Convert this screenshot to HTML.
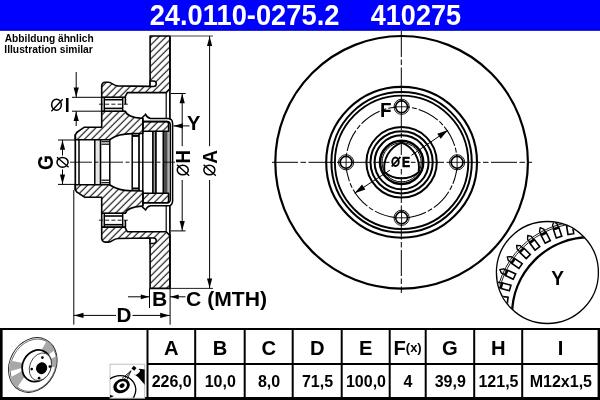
<!DOCTYPE html><html><head><meta charset="utf-8"><style>html,body{margin:0;padding:0;background:#fff;}body{width:600px;height:400px;overflow:hidden;position:relative;font-family:"Liberation Sans",sans-serif;}svg{position:absolute;left:0;top:0;will-change:transform;}text{font-family:"Liberation Sans",sans-serif;}</style></head><body>
<svg width="600" height="400" viewBox="0 0 600 400">
<defs><pattern id="h1" patternUnits="userSpaceOnUse" x="6.7" y="0" width="7" height="7"><path d="M-1.75,1.75 L1.75,-1.75 M0,7 L7,0 M5.25,8.75 L8.75,5.25" stroke="#000" stroke-width="1.05"/></pattern></defs>
<rect x="0" y="0" width="600" height="30.6" fill="#0000fe"/>
<rect x="0" y="29.4" width="600" height="1.2" fill="#0000c8"/>
<text x="149.64" y="24.85" font-size="29" font-weight="bold" fill="#fff" textLength="189.85" lengthAdjust="spacingAndGlyphs" >24.0110-0275.2</text>
<text x="370.79" y="24.85" font-size="29" font-weight="bold" fill="#fff" textLength="90.26" lengthAdjust="spacingAndGlyphs" >410275</text>
<text x="4.75" y="41.6" font-size="10.1" font-weight="bold" fill="#000" textLength="88.89" lengthAdjust="spacingAndGlyphs" >Abbildung ähnlich</text>
<text x="4.31" y="53.3" font-size="10.1" font-weight="bold" fill="#000" textLength="88.55" lengthAdjust="spacingAndGlyphs" >Illustration similar</text>
<path d="M150.1,36 L169.9,36 169.9,88.8 166.2,92.6 127.4,92.6 125.4,96.2 125.4,97.3 101.7,97.3 101.7,86.3 Q101.7,82.3 105.5,82.3 L108.5,82.3 C112,82.4 113,85.6 118,85.9 L150.1,86.4 Z" fill="url(#h1)" stroke="none"/>
<path d="M150.1,288.4 L169.9,288.4 169.9,235.6 166.2,231.8 127.4,231.8 125.4,228.2 125.4,227.1 101.7,227.1 101.7,238.1 Q101.7,242.1 105.5,242.1 L108.5,242.1 C112,242 113,238.8 118,238.5 L150.1,238 Z" fill="url(#h1)" stroke="none"/>
<path d="M101.7,111.2 L125.4,111.2 C126.5,115.2 131,117.4 141.6,118.3 L142.8,118.3 142.8,133.4 132.2,133.6 C122,134 117,135 109.4,139.7 L75.3,139.7 75.3,134.6 77,132.2 84.5,127.2 101.7,127.2 Z" fill="url(#h1)" stroke="none"/>
<path d="M101.7,213.2 L125.4,213.2 C126.5,209.2 131,207 141.6,206.1 L142.8,206.1 142.8,191 132.2,190.8 C122,190.4 117,189.4 109.4,184.7 L75.3,184.7 75.3,189.8 77,192.2 84.5,197.2 101.7,197.2 Z" fill="url(#h1)" stroke="none"/>
<path d="M142.8,121.6 L166.8,121.6 Q168.6,121.8 168.6,124 L168.6,131.2 142.8,131.2 Z" fill="url(#h1)" stroke="none"/>
<path d="M142.8,202.8 L166.8,202.8 Q168.6,202.6 168.6,200.4 L168.6,193.2 142.8,193.2 Z" fill="url(#h1)" stroke="none"/>
<rect x="95.5" y="139.7" width="4.3" height="45" fill="#e6e6e6"/>
<rect x="153.7" y="131.2" width="1.4" height="62" fill="#9a9a9a"/>
<rect x="164.4" y="131.2" width="2.6" height="62" fill="#4a4a4a"/>
<rect x="167" y="131.2" width="1.7" height="62" fill="#8a8a8a"/>
<line x1="79" y1="139.7" x2="79" y2="184.7" stroke="#000" stroke-width="1.5" />
<line x1="94.8" y1="139.7" x2="94.8" y2="184.7" stroke="#000" stroke-width="1.5" />
<line x1="100.5" y1="139.7" x2="100.5" y2="184.7" stroke="#000" stroke-width="1.6" />
<line x1="109.8" y1="139.7" x2="109.8" y2="184.7" stroke="#000" stroke-width="1.5" />
<line x1="132.2" y1="133.6" x2="132.2" y2="190.8" stroke="#000" stroke-width="1.5" />
<line x1="139" y1="133.6" x2="139" y2="190.8" stroke="#000" stroke-width="1.7" />
<line x1="142.8" y1="118.3" x2="142.8" y2="206.1" stroke="#000" stroke-width="1.5" />
<line x1="152.9" y1="131.2" x2="152.9" y2="193.2" stroke="#000" stroke-width="1.7" />
<line x1="155.9" y1="131.2" x2="155.9" y2="193.2" stroke="#000" stroke-width="1.7" />
<line x1="163.5" y1="131.2" x2="163.5" y2="193.2" stroke="#000" stroke-width="2" />
<line x1="166.2" y1="92.6" x2="166.2" y2="118.6" stroke="#000" stroke-width="1.2" />
<line x1="166.2" y1="231.8" x2="166.2" y2="205.8" stroke="#000" stroke-width="1.2" />
<line x1="101.5" y1="141.7" x2="109.8" y2="141.7" stroke="#000" stroke-width="1.2" />
<line x1="101.5" y1="182.7" x2="109.8" y2="182.7" stroke="#000" stroke-width="1.2" />
<line x1="101.5" y1="144.2" x2="109.8" y2="144.2" stroke="#000" stroke-width="1.2" />
<line x1="101.5" y1="180.2" x2="109.8" y2="180.2" stroke="#000" stroke-width="1.2" />
<line x1="132.2" y1="135.9" x2="139" y2="135.9" stroke="#000" stroke-width="2" />
<line x1="132.2" y1="188.5" x2="139" y2="188.5" stroke="#000" stroke-width="2" />
<path d="M150.1,36 L169.9,36 169.9,88.8 166.2,92.6 127.4,92.6 125.4,96.2 125.4,97.3 101.7,97.3 101.7,86.3 Q101.7,82.3 105.5,82.3 L108.5,82.3 C112,82.4 113,85.6 118,85.9 L150.1,86.4 Z" fill="none" stroke="#000" stroke-width="1.6" stroke-linejoin="round"/>
<path d="M150.1,288.4 L169.9,288.4 169.9,235.6 166.2,231.8 127.4,231.8 125.4,228.2 125.4,227.1 101.7,227.1 101.7,238.1 Q101.7,242.1 105.5,242.1 L108.5,242.1 C112,242 113,238.8 118,238.5 L150.1,238 Z" fill="none" stroke="#000" stroke-width="1.6" stroke-linejoin="round"/>
<path d="M101.7,111.2 L125.4,111.2 C126.5,115.2 131,117.4 141.6,118.3 L142.8,118.3 142.8,133.4 132.2,133.6 C122,134 117,135 109.4,139.7 L75.3,139.7 75.3,134.6 77,132.2 84.5,127.2 101.7,127.2 Z" fill="none" stroke="#000" stroke-width="1.6" stroke-linejoin="round"/>
<path d="M101.7,213.2 L125.4,213.2 C126.5,209.2 131,207 141.6,206.1 L142.8,206.1 142.8,191 132.2,190.8 C122,190.4 117,189.4 109.4,184.7 L75.3,184.7 75.3,189.8 77,192.2 84.5,197.2 101.7,197.2 Z" fill="none" stroke="#000" stroke-width="1.6" stroke-linejoin="round"/>
<path d="M142.8,121.6 L166.8,121.6 Q168.6,121.8 168.6,124 L168.6,131.2 142.8,131.2 Z" fill="none" stroke="#000" stroke-width="1.6" stroke-linejoin="round"/>
<path d="M142.8,202.8 L166.8,202.8 Q168.6,202.6 168.6,200.4 L168.6,193.2 142.8,193.2 Z" fill="none" stroke="#000" stroke-width="1.6" stroke-linejoin="round"/>
<line x1="125.4" y1="97.3" x2="125.4" y2="104.3" stroke="#000" stroke-width="1.6" />
<line x1="125.4" y1="227.1" x2="125.4" y2="220.1" stroke="#000" stroke-width="1.6" />
<path d="M150.1,81 L153.5,81 A2.75 2.75 0 0 1 153.5 86.5 L150.1,86.5 Z" fill="#fff" stroke="#000" stroke-width="1.5"/>
<path d="M150.1,243.4 L153.5,243.4 A2.75 2.75 0 0 0 153.5 237.9 L150.1,237.9 Z" fill="#fff" stroke="#000" stroke-width="1.5"/>
<line x1="169.9" y1="36" x2="169.9" y2="119.5" stroke="#000" stroke-width="1.7" />
<line x1="169.9" y1="288.4" x2="169.9" y2="204.9" stroke="#000" stroke-width="1.7" />
<line x1="75.3" y1="134.6" x2="75.3" y2="189.8" stroke="#000" stroke-width="1.7" />
<path d="M141.6,118.3 L145.6,114.4 Q147,117.8 150.5,118.6 L167.8,118.6 Q172.6,118.6 172.6,123.5 L172.6,162.2" fill="none" stroke="#000" stroke-width="1.5"/>
<path d="M141.6,206.1 L145.6,210 Q147,206.6 150.5,205.8 L167.8,205.8 Q172.6,205.8 172.6,200.9 L172.6,162.2" fill="none" stroke="#000" stroke-width="1.5"/>
<path d="M142.8,121.6 L166.8,121.6 Q170.3,121.6 170.3,125 L170.3,162.2" fill="none" stroke="#000" stroke-width="1.5"/>
<path d="M142.8,202.8 L166.8,202.8 Q170.3,202.8 170.3,199.4 L170.3,162.2" fill="none" stroke="#000" stroke-width="1.5"/>
<line x1="101.7" y1="97.3" x2="101.7" y2="111.2" stroke="#000" stroke-width="1.6" />
<line x1="104.3" y1="99.7" x2="122.7" y2="99.7" stroke="#000" stroke-width="1.6" />
<line x1="104.3" y1="108.4" x2="122.7" y2="108.4" stroke="#000" stroke-width="1.6" />
<line x1="104.3" y1="97.3" x2="104.3" y2="111.2" stroke="#000" stroke-width="1.5" />
<line x1="122.7" y1="97.3" x2="122.7" y2="111.2" stroke="#000" stroke-width="1.5" />
<line x1="101.7" y1="97.3" x2="125.4" y2="97.3" stroke="#000" stroke-width="0.8" />
<line x1="101.7" y1="111.2" x2="125.4" y2="111.2" stroke="#000" stroke-width="0.8" />
<line x1="99" y1="104.2" x2="129.5" y2="104.2" stroke="#000" stroke-width="0.9" stroke-dasharray="4 2.2"/>
<line x1="101.7" y1="227.1" x2="101.7" y2="213.2" stroke="#000" stroke-width="1.6" />
<line x1="104.3" y1="224.7" x2="122.7" y2="224.7" stroke="#000" stroke-width="1.6" />
<line x1="104.3" y1="216" x2="122.7" y2="216" stroke="#000" stroke-width="1.6" />
<line x1="104.3" y1="227.1" x2="104.3" y2="213.2" stroke="#000" stroke-width="1.5" />
<line x1="122.7" y1="227.1" x2="122.7" y2="213.2" stroke="#000" stroke-width="1.5" />
<line x1="101.7" y1="227.1" x2="125.4" y2="227.1" stroke="#000" stroke-width="0.8" />
<line x1="101.7" y1="213.2" x2="125.4" y2="213.2" stroke="#000" stroke-width="0.8" />
<line x1="99" y1="220.2" x2="129.5" y2="220.2" stroke="#000" stroke-width="0.9" stroke-dasharray="4 2.2"/>
<line x1="70" y1="162.2" x2="175" y2="162.2" stroke="#000" stroke-width="0.9" stroke-dasharray="22 2.5 4 2.5"/>
<line x1="170" y1="36" x2="213" y2="36" stroke="#444" stroke-width="1" />
<line x1="170" y1="288.4" x2="213" y2="288.4" stroke="#222" stroke-width="1" />
<line x1="209.6" y1="36" x2="209.6" y2="146.2" stroke="#000" stroke-width="1" />
<line x1="209.6" y1="180" x2="209.6" y2="288.4" stroke="#000" stroke-width="1" />
<polygon points="209.6,36.4 212.2,45.9 207,45.9" fill="#000"/>
<polygon points="209.6,288 207,278.5 212.2,278.5" fill="#000"/>
<line x1="171" y1="93.5" x2="185.6" y2="93.5" stroke="#000" stroke-width="1" />
<line x1="171" y1="230.9" x2="185.6" y2="230.9" stroke="#000" stroke-width="1" />
<line x1="182.2" y1="93.5" x2="182.2" y2="146.2" stroke="#000" stroke-width="1" />
<line x1="182.2" y1="180" x2="182.2" y2="230.9" stroke="#000" stroke-width="1" />
<polygon points="182.2,93.8 184.8,103.3 179.6,103.3" fill="#000"/>
<polygon points="182.2,230.6 179.6,221.1 184.8,221.1" fill="#000"/>
<line x1="173.3" y1="125.9" x2="189.5" y2="125.9" stroke="#000" stroke-width="1" />
<polygon points="173.4,125.9 182.9,123.3 182.9,128.5" fill="#000"/>
<text x="186.96" y="129.8" font-size="20.6" font-weight="bold" fill="#000" textLength="13.36" lengthAdjust="spacingAndGlyphs" >Y</text>
<line x1="72" y1="97.3" x2="101.7" y2="97.3" stroke="#000" stroke-width="1" />
<line x1="72" y1="111.2" x2="101.7" y2="111.2" stroke="#000" stroke-width="1" />
<line x1="76.2" y1="72" x2="76.2" y2="97.3" stroke="#000" stroke-width="1" />
<line x1="76.2" y1="111.2" x2="76.2" y2="126" stroke="#000" stroke-width="1" />
<polygon points="76.2,97 73.6,87.5 78.8,87.5" fill="#000"/>
<polygon points="76.2,111.5 78.8,121 73.6,121" fill="#000"/>
<text transform="translate(65.9,97.3) scale(0.9028,1.0465)" x="-1.34" y="13.76" font-size="20" font-weight="bold" fill="#000">I</text>
<line x1="58" y1="140" x2="75.3" y2="140" stroke="#000" stroke-width="1" />
<line x1="58" y1="184.4" x2="75.3" y2="184.4" stroke="#000" stroke-width="1" />
<line x1="62.5" y1="140" x2="62.5" y2="155.5" stroke="#000" stroke-width="1" />
<line x1="62.5" y1="169.5" x2="62.5" y2="184.4" stroke="#000" stroke-width="1" />
<polygon points="62.5,140.3 65.1,149.8 59.9,149.8" fill="#000"/>
<polygon points="62.5,184.1 59.9,174.6 65.1,174.6" fill="#000"/>
<text transform="translate(38,169.2) rotate(-90) scale(0.9556,1.0593)" x="-0.82" y="13.96" font-size="20" font-weight="bold" fill="#000">G</text>
<line x1="149.5" y1="288.4" x2="149.5" y2="308" stroke="#000" stroke-width="1" />
<line x1="170.1" y1="288.4" x2="170.1" y2="324.7" stroke="#000" stroke-width="1" />
<line x1="73.8" y1="190" x2="73.8" y2="324.7" stroke="#000" stroke-width="1" />
<line x1="128" y1="296.8" x2="149.5" y2="296.8" stroke="#000" stroke-width="1" />
<polygon points="149.3,296.8 140.8,299.2 140.8,294.4" fill="#000"/>
<line x1="170" y1="296.8" x2="185.5" y2="296.8" stroke="#000" stroke-width="1" />
<polygon points="170.2,296.8 178.7,294.4 178.7,299.2" fill="#000"/>
<text x="152.08" y="305.6" font-size="20.3" font-weight="bold" fill="#000" textLength="15.27" lengthAdjust="spacingAndGlyphs" >B</text>
<text x="186.03" y="305.6" font-size="20.3" font-weight="bold" fill="#000" textLength="80.92" lengthAdjust="spacingAndGlyphs" >C (MTH)</text>
<line x1="73.8" y1="315.4" x2="116" y2="315.4" stroke="#000" stroke-width="1" />
<line x1="132.5" y1="315.4" x2="169.9" y2="315.4" stroke="#000" stroke-width="1" />
<polygon points="74,315.4 83.5,312.8 83.5,318" fill="#000"/>
<polygon points="169.7,315.4 160.2,318 160.2,312.8" fill="#000"/>
<text x="116.61" y="322" font-size="20.8" font-weight="bold" fill="#000" textLength="14.96" lengthAdjust="spacingAndGlyphs" >D</text>
<ellipse cx="56.5" cy="104.7" rx="4.85" ry="5.55" fill="none" stroke="#000" stroke-width="1.5"/>
<line x1="51.4" y1="111.2" x2="62.7" y2="99.2" stroke="#000" stroke-width="1.35"/>
<ellipse cx="62.55" cy="162.35" rx="5.55" ry="4.85" fill="none" stroke="#000" stroke-width="1.5"/>
<line x1="57" y1="157.2" x2="68.6" y2="167.3" stroke="#000" stroke-width="1.35"/>
<text transform="translate(175.4,162.3) rotate(-90) scale(0.9354,1.0320)" x="-1.34" y="13.76" font-size="20" font-weight="bold" fill="#000">H</text>
<ellipse cx="182.75" cy="170" rx="5.5" ry="4.85" fill="none" stroke="#000" stroke-width="1.5"/>
<line x1="177" y1="164.7" x2="189.2" y2="175.8" stroke="#000" stroke-width="1.35"/>
<text transform="translate(202.3,163.2) rotate(-90) scale(0.9538,1.0320)" x="-0.5" y="13.76" font-size="20" font-weight="bold" fill="#000">A</text>
<ellipse cx="209.35" cy="170" rx="5.5" ry="4.85" fill="none" stroke="#000" stroke-width="1.5"/>
<line x1="203.6" y1="164.7" x2="215.8" y2="175.8" stroke="#000" stroke-width="1.35"/>
<circle cx="401.6" cy="162.3" r="126.3" fill="none" stroke="#000" stroke-width="2.2" />
<circle cx="401.6" cy="162.3" r="75.4" fill="none" stroke="#000" stroke-width="2.1" />
<circle cx="401.6" cy="162.3" r="70.2" fill="none" stroke="#000" stroke-width="2" />
<circle cx="401.6" cy="162.3" r="66.7" fill="none" stroke="#000" stroke-width="1.9" />
<circle cx="401.6" cy="162.3" r="35.2" fill="none" stroke="#000" stroke-width="2" />
<circle cx="401.6" cy="162.3" r="31.1" fill="none" stroke="#000" stroke-width="2" />
<circle cx="401.6" cy="162.3" r="27" fill="none" stroke="#000" stroke-width="2" />
<circle cx="401.6" cy="162.3" r="21.6" fill="none" stroke="#000" stroke-width="2.5" />
<circle cx="401.6" cy="162.3" r="55.6" fill="none" stroke="#000" stroke-width="1.05" stroke-dasharray="22 2 5 2"/>
<circle cx="401.6" cy="162.3" r="19.6" fill="none" stroke="#000" stroke-width="1" />
<path d="M401.6,142.6 A27,27 0 0 0 384.54,172.15 A27,27 0 0 0 418.66,172.15 A27,27 0 0 0 401.6,142.6Z" fill="#fff" stroke="#000" stroke-width="1.9"/>
<line x1="272" y1="162.3" x2="532" y2="162.3" stroke="#000" stroke-width="1" stroke-dasharray="26 2.5 5.5 2.5"/>
<line x1="401.3" y1="31" x2="401.3" y2="293" stroke="#000" stroke-width="1" stroke-dasharray="26 2.5 5.5 2.5"/>
<circle cx="457.1" cy="162.3" r="7.6" fill="none" stroke="#000" stroke-width="0.9" />
<circle cx="457.1" cy="162.3" r="5.9" fill="#fff" stroke="#000" stroke-width="1.6"/>
<line x1="449.5" y1="162.3" x2="464.7" y2="162.3" stroke="#000" stroke-width="0.9" />
<line x1="457.1" y1="154.7" x2="457.1" y2="169.9" stroke="#000" stroke-width="0.9" />
<circle cx="401.6" cy="217.8" r="7.6" fill="none" stroke="#000" stroke-width="0.9" />
<circle cx="401.6" cy="217.8" r="5.9" fill="#fff" stroke="#000" stroke-width="1.6"/>
<line x1="394" y1="217.8" x2="409.2" y2="217.8" stroke="#000" stroke-width="0.9" />
<line x1="401.6" y1="210.2" x2="401.6" y2="225.4" stroke="#000" stroke-width="0.9" />
<circle cx="346.1" cy="162.3" r="7.6" fill="none" stroke="#000" stroke-width="0.9" />
<circle cx="346.1" cy="162.3" r="5.9" fill="#fff" stroke="#000" stroke-width="1.6"/>
<line x1="338.5" y1="162.3" x2="353.7" y2="162.3" stroke="#000" stroke-width="0.9" />
<line x1="346.1" y1="154.7" x2="346.1" y2="169.9" stroke="#000" stroke-width="0.9" />
<circle cx="401.6" cy="106.8" r="7.6" fill="none" stroke="#000" stroke-width="0.9" />
<circle cx="401.6" cy="106.8" r="5.9" fill="#fff" stroke="#000" stroke-width="1.6"/>
<line x1="394" y1="106.8" x2="409.2" y2="106.8" stroke="#000" stroke-width="0.9" />
<line x1="401.6" y1="99.2" x2="401.6" y2="114.4" stroke="#000" stroke-width="0.9" />
<text x="379.93" y="117.1" font-size="20.8" font-weight="bold" fill="#000" textLength="11.57" lengthAdjust="spacingAndGlyphs" >F</text>
<rect x="389.5" y="155" width="21.3" height="14" fill="#fff"/>
<line x1="354.6" y1="193.2" x2="389.9" y2="170.2" stroke="#000" stroke-width="1" />
<line x1="411.4" y1="155.3" x2="448.1" y2="130.1" stroke="#000" stroke-width="1" />
<polygon points="354.6,193.2 362.04,184.56 365.4,189.53" fill="#000"/>
<polygon points="448.1,130.1 440.66,138.74 437.3,133.77" fill="#000"/>
<ellipse cx="395.5" cy="161.75" rx="3.25" ry="4.2" fill="none" stroke="#000" stroke-width="1.9"/>
<line x1="391.7" y1="166.5" x2="400.5" y2="156.9" stroke="#000" stroke-width="1.71"/>
<text transform="translate(402.85,157.3) scale(0.6061,0.6977)" x="-1.34" y="13.76" font-size="20" font-weight="bold" fill="#000" stroke="#000" stroke-width="0.9">E</text>
<clipPath id="yc"><circle cx="547.4" cy="272.5" r="50.5"/></clipPath>
<circle cx="547.4" cy="272.5" r="51.0" fill="#fff" stroke="#000" stroke-width="1.3"/>
<g clip-path="url(#yc)">
<circle cx="589.6" cy="314.9" r="77.6" fill="none" stroke="#000" stroke-width="2.4"/>
<polygon points="580.17,233.2 580.17,224.6 585.97,224.6 585.97,233.2" fill="#fff" stroke="#000" stroke-width="1.6"/>
<polygon points="580.67,223.7 580.68,220 583.08,217 585.48,220 585.47,223.7" fill="#eee" stroke="#000" stroke-width="1.35" stroke-linejoin="round"/>
<polygon points="568.02,234.64 566.64,226.15 572.37,225.22 573.74,233.71" fill="#fff" stroke="#000" stroke-width="1.6"/>
<polygon points="566.99,225.18 566.4,221.53 568.29,218.18 571.14,220.76 571.73,224.41" fill="#eee" stroke="#000" stroke-width="1.35" stroke-linejoin="round"/>
<polygon points="556.26,238.01 553.54,229.86 559.04,228.02 561.76,236.18" fill="#fff" stroke="#000" stroke-width="1.6"/>
<polygon points="553.73,228.84 552.56,225.33 553.88,221.73 557.11,223.82 558.28,227.32" fill="#eee" stroke="#000" stroke-width="1.35" stroke-linejoin="round"/>
<polygon points="545.2,243.24 541.2,235.62 546.33,232.92 550.33,240.54" fill="#fff" stroke="#000" stroke-width="1.6"/>
<polygon points="541.22,234.59 539.5,231.32 540.23,227.54 543.75,229.08 545.47,232.36" fill="#eee" stroke="#000" stroke-width="1.35" stroke-linejoin="round"/>
<polygon points="535.12,250.17 529.95,243.29 534.58,239.81 539.75,246.68" fill="#fff" stroke="#000" stroke-width="1.6"/>
<polygon points="529.81,242.27 527.58,239.32 527.7,235.48 531.42,236.43 533.64,239.39" fill="#eee" stroke="#000" stroke-width="1.35" stroke-linejoin="round"/>
<polygon points="526.28,258.63 520.08,252.68 524.09,248.49 530.3,254.44" fill="#fff" stroke="#000" stroke-width="1.6"/>
<polygon points="519.77,251.69 517.1,249.13 516.6,245.32 520.42,245.67 523.09,248.23" fill="#eee" stroke="#000" stroke-width="1.35" stroke-linejoin="round"/>
<polygon points="518.92,268.4 511.84,263.52 515.13,258.75 522.21,263.62" fill="#fff" stroke="#000" stroke-width="1.6"/>
<polygon points="511.38,262.6 508.34,260.5 507.23,256.82 511.06,256.55 514.11,258.65" fill="#eee" stroke="#000" stroke-width="1.35" stroke-linejoin="round"/>
<polygon points="513.23,279.23 505.46,275.55 507.93,270.31 515.71,273.98" fill="#fff" stroke="#000" stroke-width="1.6"/>
<polygon points="504.86,274.72 501.51,273.13 499.82,269.68 503.56,268.8 506.91,270.38" fill="#eee" stroke="#000" stroke-width="1.35" stroke-linejoin="round"/>
<polygon points="509.35,290.83 501.09,288.45 502.69,282.88 510.96,285.26" fill="#fff" stroke="#000" stroke-width="1.6"/>
<polygon points="500.36,287.72 496.81,286.7 494.59,283.56 498.13,282.09 501.69,283.11" fill="#eee" stroke="#000" stroke-width="1.35" stroke-linejoin="round"/>
<polygon points="507.39,302.9 498.85,301.89 499.54,296.13 508.08,297.15" fill="#fff" stroke="#000" stroke-width="1.6"/>
<polygon points="498.02,301.28 494.34,300.85 491.65,298.11 494.91,296.08 498.58,296.52" fill="#eee" stroke="#000" stroke-width="1.35" stroke-linejoin="round"/>
<circle cx="583" cy="309" r="85.9" fill="none" stroke="#000" stroke-width="0.9" />
<circle cx="583" cy="309" r="87.7" fill="none" stroke="#000" stroke-width="0.9" />
</g>
<text x="551.18" y="285" font-size="21" font-weight="bold" fill="#000" textLength="12.73" lengthAdjust="spacingAndGlyphs" >Y</text>
<rect x="1.25" y="329" width="597.5" height="69.5" fill="none" stroke="#000" stroke-width="2"/>
<line x1="0" y1="328.9" x2="600" y2="328.9" stroke="#000" stroke-width="2" />
<line x1="1.25" y1="328" x2="1.25" y2="400" stroke="#000" stroke-width="2.5" />
<line x1="598.9" y1="328" x2="598.9" y2="400" stroke="#000" stroke-width="2.2" />
<line x1="0" y1="398.5" x2="600" y2="398.5" stroke="#000" stroke-width="3" />
<line x1="147.5" y1="364" x2="600" y2="364" stroke="#000" stroke-width="2" />
<line x1="147.5" y1="329" x2="147.5" y2="398" stroke="#000" stroke-width="2" />
<line x1="195.2" y1="329" x2="195.2" y2="398" stroke="#000" stroke-width="2" />
<line x1="244.7" y1="329" x2="244.7" y2="398" stroke="#000" stroke-width="2" />
<line x1="292.7" y1="329" x2="292.7" y2="398" stroke="#000" stroke-width="2" />
<line x1="341.7" y1="329" x2="341.7" y2="398" stroke="#000" stroke-width="2" />
<line x1="389.7" y1="329" x2="389.7" y2="398" stroke="#000" stroke-width="2" />
<line x1="425.7" y1="329" x2="425.7" y2="398" stroke="#000" stroke-width="2" />
<line x1="474.2" y1="329" x2="474.2" y2="398" stroke="#000" stroke-width="2" />
<line x1="522.2" y1="329" x2="522.2" y2="398" stroke="#000" stroke-width="2" />
<text x="171.35" y="354.6" font-size="20.2" font-weight="bold" text-anchor="middle">A</text>
<text x="171.65" y="386.6" font-size="16" font-weight="bold" text-anchor="middle">226,0</text>
<text x="219.95" y="354.6" font-size="20.2" font-weight="bold" text-anchor="middle">B</text>
<text x="220.25" y="386.6" font-size="16" font-weight="bold" text-anchor="middle">10,0</text>
<text x="268.7" y="354.6" font-size="20.2" font-weight="bold" text-anchor="middle">C</text>
<text x="269" y="386.6" font-size="16" font-weight="bold" text-anchor="middle">8,0</text>
<text x="317.2" y="354.6" font-size="20.2" font-weight="bold" text-anchor="middle">D</text>
<text x="317.5" y="386.6" font-size="16" font-weight="bold" text-anchor="middle">71,5</text>
<text x="365.7" y="354.6" font-size="20.2" font-weight="bold" text-anchor="middle">E</text>
<text x="366" y="386.6" font-size="16" font-weight="bold" text-anchor="middle">100,0</text>
<text x="393.5" y="354.6" font-size="20.2" font-weight="bold">F</text>
<text x="405.8" y="351.8" font-size="13" font-weight="bold">(x)</text>
<text x="408" y="386.6" font-size="16" font-weight="bold" text-anchor="middle">4</text>
<text x="449.95" y="354.6" font-size="20.2" font-weight="bold" text-anchor="middle">G</text>
<text x="450.25" y="386.6" font-size="16" font-weight="bold" text-anchor="middle">39,9</text>
<text x="498.2" y="354.6" font-size="20.2" font-weight="bold" text-anchor="middle">H</text>
<text x="498.5" y="386.6" font-size="16" font-weight="bold" text-anchor="middle">121,5</text>
<text x="560.55" y="354.6" font-size="20.2" font-weight="bold" text-anchor="middle">I</text>
<text x="560.85" y="386.6" font-size="16" font-weight="bold" text-anchor="middle">M12x1,5</text>
<clipPath id="discclip"><ellipse cx="0" cy="0" rx="22.3" ry="27.8"/></clipPath>
<g transform="translate(32.8,365) rotate(28)">
<ellipse cx="0" cy="0" rx="23" ry="28.5" fill="#fff" stroke="#222" stroke-width="0.9"/>
<ellipse cx="0.5" cy="0" rx="21.8" ry="27.3" fill="none" stroke="#444" stroke-width="0.7"/>
<g clip-path="url(#discclip)">
<polygon points="0,0 1.4,-39.98 18.78,-35.32" fill="#a8a8a8"/>
<polygon points="0,0 26.77,-29.73 37.09,-14.98" fill="#a8a8a8"/>
<polygon points="0,0 -4.87,39.7 -21.79,33.55" fill="#a8a8a8"/>
<polygon points="0,0 -29.25,27.28 -38.25,11.69" fill="#a8a8a8"/>
</g>
</g>
<ellipse cx="36.5" cy="365.8" rx="13.8" ry="16.3" transform="rotate(28 36.5 365.8)" fill="#fff" stroke="#000" stroke-width="1.8"/>
<ellipse cx="40.4" cy="366.8" rx="10.6" ry="14.3" transform="rotate(22 40.4 366.8)" fill="#fff" stroke="#333" stroke-width="0.8"/>
<ellipse cx="41.6" cy="368.2" rx="5.5" ry="6.0" transform="rotate(20 41.6 368.2)" fill="#000"/>
<circle cx="42.4" cy="357.6" r="1.35" fill="#000"/>
<circle cx="49.9" cy="366.6" r="1.35" fill="#000"/>
<circle cx="39.1" cy="378.2" r="1.35" fill="#000"/>
<circle cx="31.7" cy="369.1" r="1.35" fill="#000"/>
<clipPath id="sprayclip"><rect x="110" y="364.2" width="34.7" height="33.5"/></clipPath>
<rect x="110" y="364.2" width="34.7" height="34" fill="#fff" stroke="#bbb" stroke-width="0.9"/>
<g clip-path="url(#sprayclip)">
<ellipse cx="119" cy="391" rx="17" ry="15" transform="rotate(-20 119 391)" fill="none" stroke="#000" stroke-width="1.3"/>
<ellipse cx="121.5" cy="386" rx="8.6" ry="6.9" transform="rotate(-28 121.5 386)" fill="#000"/>
<ellipse cx="121.8" cy="385.8" rx="5.4" ry="4.3" transform="rotate(-28 121.8 385.8)" fill="#fff"/>
<ellipse cx="122" cy="385.6" rx="2.7" ry="2.1" transform="rotate(-28 122 385.6)" fill="#000"/>
<polygon points="110,395 114,396 110,398" fill="#000"/>
<polygon points="134.3,374.5 139.5,368.8 145,369.5 145,385 138,377" fill="#000"/>
<ellipse cx="137.3" cy="372.3" rx="3.4" ry="1.4" transform="rotate(-42 137.3 372.3)" fill="#fff"/>
<rect x="132.2" y="366.4" width="3.6" height="3.6" transform="rotate(40 134 368.2)" fill="#000"/>
<line x1="131" y1="370.8" x2="122" y2="378.4" stroke="#000" stroke-width="0.8"/>
<line x1="131" y1="370.8" x2="124.3" y2="379.3" stroke="#000" stroke-width="0.8"/>
<line x1="131" y1="370.8" x2="127" y2="379.6" stroke="#000" stroke-width="0.8"/>
</g>
</svg></body></html>
